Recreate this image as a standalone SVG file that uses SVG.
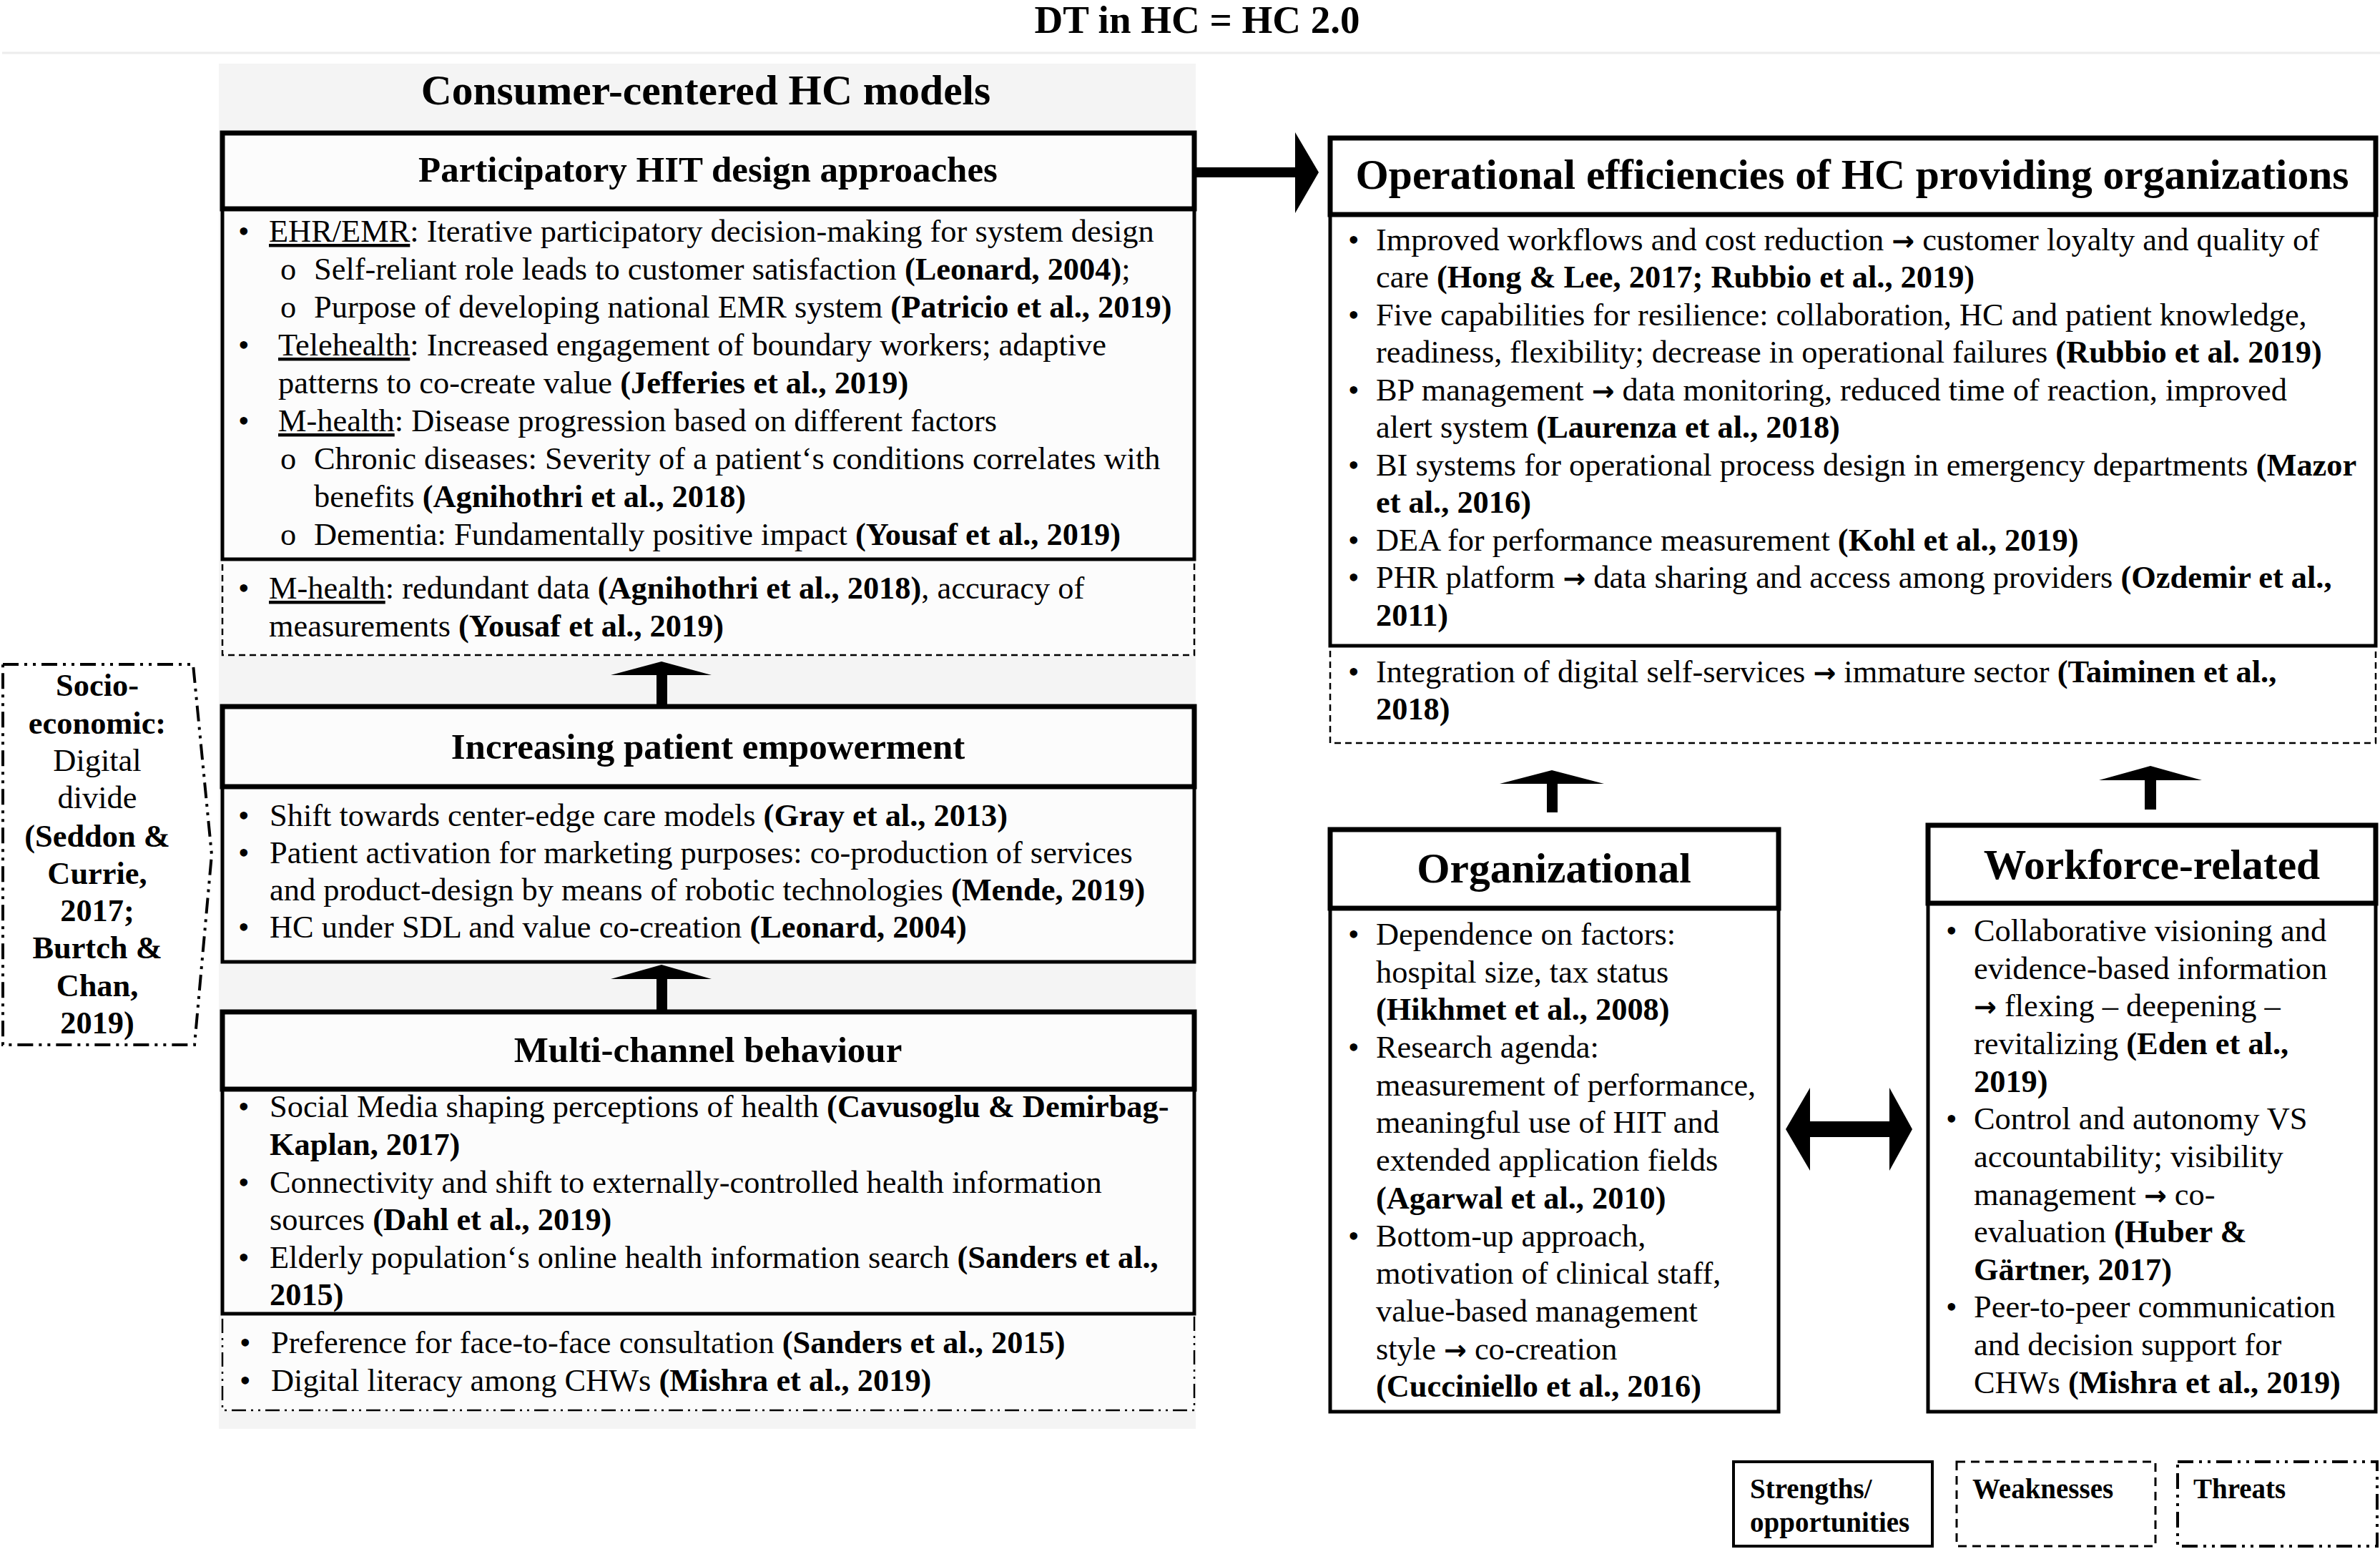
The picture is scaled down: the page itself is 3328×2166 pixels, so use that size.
<svg xmlns="http://www.w3.org/2000/svg" width="3328" height="2166" viewBox="0 0 3328 2166">
<style>
text { font-family: "Liberation Serif", "Times New Roman", serif; fill: #000; }
.t { font-size: 44.4px; }
.b { font-weight: bold; }
.u { text-decoration: underline; }
.ar { font-family: "DejaVu Sans", sans-serif; font-weight: bold; font-size: 38px; }
.h { font-size: 51px; font-weight: bold; text-anchor: middle; }
.hl { font-size: 59.5px; font-weight: bold; text-anchor: middle; }
.c { text-anchor: middle; }
.lg { font-size: 39px; font-weight: bold; }
.hdr { fill: #fcfcfc; stroke: #000; stroke-width: 7; }
.hdrw { fill: #fff; stroke: #000; stroke-width: 7; }
.bod { fill: #fcfcfc; stroke: #000; stroke-width: 5; }
.bodw { fill: #fff; stroke: #000; stroke-width: 5; }
.dash { fill: #fcfcfc; stroke: #000; stroke-width: 2.5; stroke-dasharray: 9 6; }
.dashw { fill: #fff; stroke: #000; stroke-width: 2.5; stroke-dasharray: 9 6; }
.dd { fill: #fcfcfc; stroke: #000; stroke-width: 2.5; stroke-dasharray: 20 7 3 7 3 7; }
.ddw { fill: #fff; stroke: #000; stroke-width: 4; stroke-dasharray: 22 8 4 8 4 8; }
.arr { fill: #000; stroke: none; }
</style>

<rect x="0" y="0" width="3328" height="2166" fill="#fff"/>
<g id="title">
  <text x="1674" y="46" class="b" font-size="55" text-anchor="middle">DT in HC = HC 2.0</text>
  <line x1="3" y1="74" x2="3328" y2="74" stroke="#ececec" stroke-width="3"/>
</g>

<g id="consumer-panel">
  <rect x="306" y="89" width="1366" height="1909" fill="#f4f4f4"/>
  <text x="987" y="146" class="hl">Consumer-centered HC models</text>
</g>

<g id="participatory">
  <rect x="311" y="782" width="1359" height="134" class="dash"/>
  <rect x="311" y="292" width="1359" height="490" class="bod"/>
  <rect x="311" y="186" width="1359" height="106" class="hdr"/>
  <text x="990" y="254" class="h">Participatory HIT design approaches</text>
  <g class="t">
    <text x="333" y="338">•</text>
    <text x="376" y="338"><tspan class="u">EHR/EMR</tspan>: Iterative participatory decision-making for system design</text>
    <text x="392" y="391">o</text>
    <text x="439" y="391">Self-reliant role leads to customer satisfaction <tspan class="b">(Leonard, 2004)</tspan>;</text>
    <text x="392" y="444">o</text>
    <text x="439" y="444">Purpose of developing national EMR system <tspan class="b">(Patricio et al., 2019)</tspan></text>
    <text x="333" y="497">•</text>
    <text x="389" y="497"><tspan class="u">Telehealth</tspan>: Increased engagement of boundary workers; adaptive</text>
    <text x="389" y="550">patterns to co-create value <tspan class="b">(Jefferies et al., 2019)</tspan></text>
    <text x="333" y="603">•</text>
    <text x="389" y="603"><tspan class="u">M-health</tspan>: Disease progression based on different factors</text>
    <text x="392" y="656">o</text>
    <text x="439" y="656">Chronic diseases: Severity of a patient‘s conditions correlates with</text>
    <text x="439" y="709">benefits <tspan class="b">(Agnihothri et al., 2018)</tspan></text>
    <text x="392" y="762">o</text>
    <text x="439" y="762">Dementia: Fundamentally positive impact <tspan class="b">(Yousaf et al., 2019)</tspan></text>
    <text x="333" y="837">•</text>
    <text x="376" y="837"><tspan class="u">M-health</tspan>: redundant data <tspan class="b">(Agnihothri et al., 2018)</tspan>, accuracy of</text>
    <text x="376" y="890">measurements <tspan class="b">(Yousaf et al., 2019)</tspan></text>
  </g>
</g>

<g id="empowerment">
  <rect x="311" y="1100" width="1359" height="245" class="bod"/>
  <rect x="311" y="988" width="1359" height="112" class="hdr"/>
  <text x="990" y="1061" class="h">Increasing patient empowerment</text>
  <g class="t">
    <text x="333" y="1155">•</text>
    <text x="377" y="1155">Shift towards center-edge care models <tspan class="b">(Gray et al., 2013)</tspan></text>
    <text x="333" y="1207">•</text>
    <text x="377" y="1207">Patient activation for marketing purposes: co-production of services</text>
    <text x="377" y="1259">and product-design by means of robotic technologies <tspan class="b">(Mende, 2019)</tspan></text>
    <text x="333" y="1311">•</text>
    <text x="377" y="1311">HC under SDL and value co-creation <tspan class="b">(Leonard, 2004)</tspan></text>
  </g>
</g>

<g id="multichannel">
  <rect x="311" y="1837" width="1359" height="135" class="dd"/>
  <rect x="311" y="1523" width="1359" height="314" class="bod"/>
  <rect x="311" y="1415" width="1359" height="108" class="hdr"/>
  <text x="990" y="1485" class="h">Multi-channel behaviour</text>
  <g class="t">
    <text x="333" y="1562">•</text>
    <text x="377" y="1562">Social Media shaping perceptions of health <tspan class="b">(Cavusoglu &amp; Demirbag-</tspan></text>
    <text x="377" y="1615" class="b">Kaplan, 2017)</text>
    <text x="333" y="1668">•</text>
    <text x="377" y="1668">Connectivity and shift to externally-controlled health information</text>
    <text x="377" y="1720">sources <tspan class="b">(Dahl et al., 2019)</tspan></text>
    <text x="333" y="1773">•</text>
    <text x="377" y="1773">Elderly population‘s online health information search <tspan class="b">(Sanders et al.,</tspan></text>
    <text x="377" y="1825" class="b">2015)</text>
    <text x="335" y="1892">•</text>
    <text x="379" y="1892">Preference for face-to-face consultation <tspan class="b">(Sanders et al., 2015)</tspan></text>
    <text x="335" y="1945">•</text>
    <text x="379" y="1945">Digital literacy among CHWs <tspan class="b">(Mishra et al., 2019)</tspan></text>
  </g>
</g>

<g id="socioeconomic">
  <path d="M4 929 H270 L296 1195 L272 1461 H4 Z" fill="#fff" stroke="#000" stroke-width="4" stroke-dasharray="22 8 4 8 4 8"/>
  <g class="t c">
    <text x="136" y="973" class="b">Socio-</text>
    <text x="136" y="1026" class="b">economic:</text>
    <text x="136" y="1078">Digital</text>
    <text x="136" y="1130">divide</text>
    <text x="136" y="1184" class="b">(Seddon &amp;</text>
    <text x="136" y="1236" class="b">Currie,</text>
    <text x="136" y="1288" class="b">2017;</text>
    <text x="136" y="1340" class="b">Burtch &amp;</text>
    <text x="136" y="1393" class="b">Chan,</text>
    <text x="136" y="1445" class="b">2019)</text>
  </g>
</g>

<g id="operational">
  <rect x="1860" y="903" width="1462" height="136" class="dashw"/>
  <rect x="1860" y="300" width="1462" height="603" class="bodw"/>
  <rect x="1860" y="193" width="1462" height="107" class="hdrw"/>
  <text x="2590" y="264" class="hl">Operational efficiencies of HC providing organizations</text>
  <g class="t">
    <text x="1885" y="350">•</text>
    <text x="1924" y="350">Improved workflows and cost reduction <tspan class="ar">→</tspan> customer loyalty and quality of</text>
    <text x="1924" y="402">care <tspan class="b">(Hong &amp; Lee, 2017; Rubbio et al., 2019)</tspan></text>
    <text x="1885" y="455">•</text>
    <text x="1924" y="455">Five capabilities for resilience: collaboration, HC and patient knowledge,</text>
    <text x="1924" y="507">readiness, flexibility; decrease in operational failures <tspan class="b">(Rubbio et al. 2019)</tspan></text>
    <text x="1885" y="560">•</text>
    <text x="1924" y="560">BP management <tspan class="ar">→</tspan> data monitoring, reduced time of reaction, improved</text>
    <text x="1924" y="612">alert system <tspan class="b">(Laurenza et al., 2018)</tspan></text>
    <text x="1885" y="665">•</text>
    <text x="1924" y="665">BI systems for operational process design in emergency departments <tspan class="b">(Mazor</tspan></text>
    <text x="1924" y="717" class="b">et al., 2016)</text>
    <text x="1885" y="770">•</text>
    <text x="1924" y="770">DEA for performance measurement <tspan class="b">(Kohl et al., 2019)</tspan></text>
    <text x="1885" y="822">•</text>
    <text x="1924" y="822">PHR platform <tspan class="ar">→</tspan> data sharing and access among providers <tspan class="b">(Ozdemir et al.,</tspan></text>
    <text x="1924" y="875" class="b">2011)</text>
    <text x="1885" y="954">•</text>
    <text x="1924" y="954">Integration of digital self-services <tspan class="ar">→</tspan> immature sector <tspan class="b">(Taiminen et al.,</tspan></text>
    <text x="1924" y="1006" class="b">2018)</text>
  </g>
</g>

<g id="organizational">
  <rect x="1860" y="1270" width="627" height="704" class="bodw"/>
  <rect x="1860" y="1160" width="627" height="110" class="hdrw"/>
  <text x="2173" y="1234" class="hl">Organizational</text>
  <g class="t">
    <text x="1885" y="1321">•</text>
    <text x="1924" y="1321">Dependence on factors:</text>
    <text x="1924" y="1374">hospital size, tax status</text>
    <text x="1924" y="1426" class="b">(Hikhmet et al., 2008)</text>
    <text x="1885" y="1479">•</text>
    <text x="1924" y="1479">Research agenda:</text>
    <text x="1924" y="1532">measurement of performance,</text>
    <text x="1924" y="1584">meaningful use of HIT and</text>
    <text x="1924" y="1637">extended application fields</text>
    <text x="1924" y="1690" class="b">(Agarwal et al., 2010)</text>
    <text x="1885" y="1743">•</text>
    <text x="1924" y="1743">Bottom-up approach,</text>
    <text x="1924" y="1795">motivation of clinical staff,</text>
    <text x="1924" y="1848">value-based management</text>
    <text x="1924" y="1901">style <tspan class="ar">→</tspan> co-creation</text>
    <text x="1924" y="1953" class="b">(Cucciniello et al., 2016)</text>
  </g>
</g>

<g id="workforce">
  <rect x="2696" y="1263" width="626" height="711" class="bodw"/>
  <rect x="2696" y="1154" width="626" height="109" class="hdrw"/>
  <text x="3009" y="1229" class="hl">Workforce-related</text>
  <g class="t">
    <text x="2721" y="1316">•</text>
    <text x="2760" y="1316">Collaborative visioning and</text>
    <text x="2760" y="1369">evidence-based information</text>
    <text x="2760" y="1421"><tspan class="ar">→</tspan> flexing – deepening –</text>
    <text x="2760" y="1474">revitalizing <tspan class="b">(Eden et al.,</tspan></text>
    <text x="2760" y="1527" class="b">2019)</text>
    <text x="2721" y="1579">•</text>
    <text x="2760" y="1579">Control and autonomy VS</text>
    <text x="2760" y="1632">accountability; visibility</text>
    <text x="2760" y="1685">management <tspan class="ar">→</tspan> co-</text>
    <text x="2760" y="1737">evaluation <tspan class="b">(Huber &amp;</tspan></text>
    <text x="2760" y="1790" class="b">Gärtner, 2017)</text>
    <text x="2721" y="1842">•</text>
    <text x="2760" y="1842">Peer-to-peer communication</text>
    <text x="2760" y="1895">and decision support for</text>
    <text x="2760" y="1948">CHWs <tspan class="b">(Mishra et al., 2019)</tspan></text>
  </g>
</g>

<g id="connectors">
  <path class="arr" d="M1672 234 H1811 V185 L1844 241 L1811 298 V248 H1672 Z"/>
  <path class="arr" d="M918 986 V944 H854 L925 925 L995 944 H933 V986 Z"/>
  <path class="arr" d="M918 1412 V1369 H854 L925 1349 L995 1369 H933 V1412 Z"/>
  <path class="arr" d="M2163 1136 V1096 H2097 L2170 1077 L2243 1096 H2178 V1136 Z"/>
  <path class="arr" d="M2999 1132 V1091 H2935 L3007 1071 L3079 1091 H3015 V1132 Z"/>
  <path class="arr" d="M2497 1579 L2531 1521 V1568 H2642 V1521 L2674 1579 L2642 1637 V1590 H2531 V1637 Z"/>
</g>

<g id="legend">
  <g id="legend-strengths">
    <rect x="2424" y="2044" width="278" height="118" fill="#fff" stroke="#000" stroke-width="4"/>
    <text x="2447" y="2095" class="lg">Strengths/</text>
    <text x="2447" y="2142" class="lg">opportunities</text>
  </g>
  <g id="legend-weaknesses">
    <rect x="2736" y="2044" width="278" height="118" fill="#fff" stroke="#000" stroke-width="3" stroke-dasharray="12 8"/>
    <text x="2758" y="2095" class="lg">Weaknesses</text>
  </g>
  <g id="legend-threats">
    <rect x="3045" y="2044" width="279" height="118" class="ddw"/>
    <text x="3067" y="2095" class="lg">Threats</text>
  </g>
</g>
</svg>
